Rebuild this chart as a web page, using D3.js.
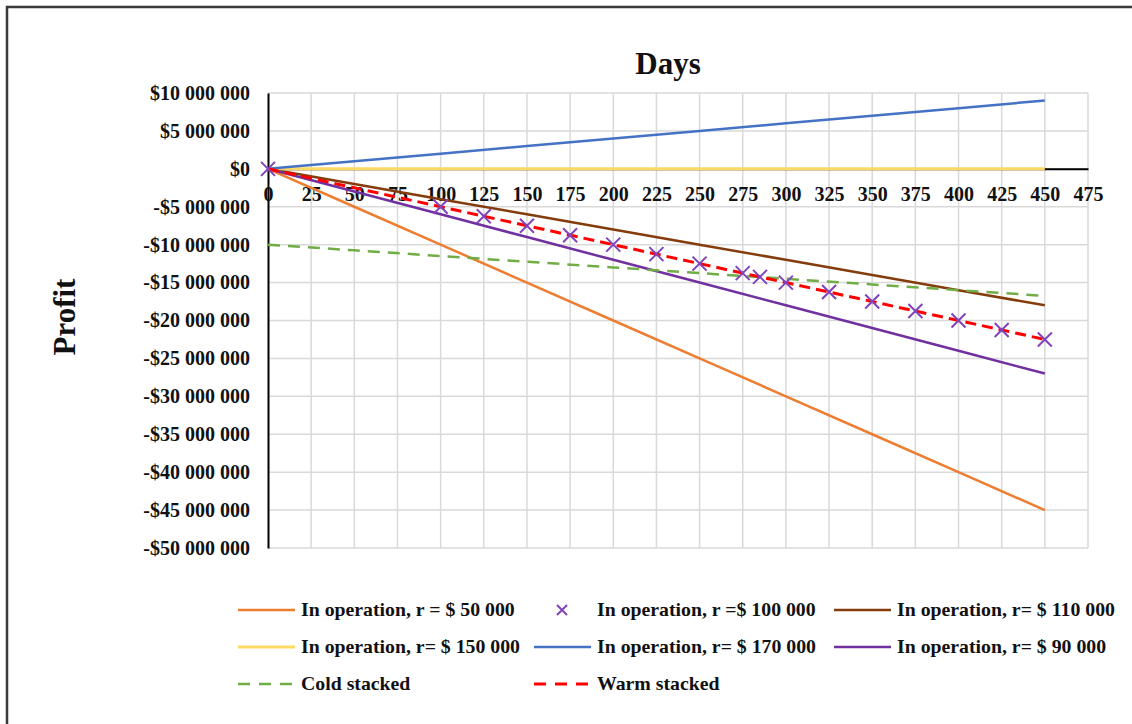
<!DOCTYPE html>
<html>
<head>
<meta charset="utf-8">
<script src="https://cdn.jsdelivr.net/npm/d3@7"></script>
<style>
  body { margin: 0; background: #fff; }
  text { font-family: "Liberation Serif", "Times New Roman", serif; font-weight: bold; fill: #111; }
</style>
</head>
<body>
<svg id="chart" width="1132" height="724"></svg>
<script>
// days sampled along the straight series
const days = [0, 50, 100, 150, 200, 250, 300, 350, 400, 450];

const op50k  = [0, -5e6, -10e6, -15e6, -20e6, -25e6, -30e6, -35e6, -40e6, -45e6];
const op110k = [0, -2e6, -4e6, -6e6, -8e6, -10e6, -12e6, -14e6, -16e6, -18e6];
const op150k = [0, 0, 0, 0, 0, 0, 0, 0, 0, 0];
const op170k = [0, 1e6, 2e6, 3e6, 4e6, 5e6, 6e6, 7e6, 8e6, 9e6];
const op90k  = [0, -3e6, -6e6, -9e6, -12e6, -15e6, -18e6, -21e6, -24e6, -27e6];
const coldStacked = [-10e6, -10.75e6, -11.5e6, -12.25e6, -13e6, -13.75e6, -14.5e6, -15.25e6, -16e6, -16.75e6];
const warmStacked = [0, -2.5e6, -5e6, -7.5e6, -10e6, -12.5e6, -15e6, -17.5e6, -20e6, -22.5e6];

// r = $100 000 is drawn as markers only
const markerDays = [0, 100, 125, 150, 175, 200, 225, 250, 275, 285, 300, 325, 350, 375, 400, 425, 450];
const op100k = [0, -5e6, -6.25e6, -7.5e6, -8.75e6, -10e6, -11.25e6, -12.5e6, -13.75e6, -14.25e6,
                -15e6, -16.25e6, -17.5e6, -18.75e6, -20e6, -21.25e6, -22.5e6];

const xTicks = [0, 25, 50, 75, 100, 125, 150, 175, 200, 225, 250, 275, 300, 325, 350, 375, 400, 425, 450, 475];
const yTicks = [10e6, 5e6, 0, -5e6, -10e6, -15e6, -20e6, -25e6, -30e6, -35e6, -40e6, -45e6, -50e6];

const series = [
  { name: "In operation, r = $ 50 000",  values: op50k,       color: "#ED7D31", width: 2.5 },
  { name: "In operation, r= $ 110 000",  values: op110k,      color: "#843C0C", width: 2.5 },
  { name: "In operation, r= $ 150 000",  values: op150k,      color: "#FFD966", width: 3 },
  { name: "In operation, r= $ 170 000",  values: op170k,      color: "#4472C4", width: 2.5 },
  { name: "In operation, r= $ 90 000",   values: op90k,       color: "#7030A0", width: 2.5 },
  { name: "Cold stacked",                values: coldStacked, color: "#70AD47", width: 2.5, dash: "12,8" },
  { name: "Warm stacked",                values: warmStacked, color: "#FF0000", width: 3,   dash: "11,6" }
];
const markerColor = "#7F44BC";

const svg = d3.select("#chart");

const x = d3.scaleLinear().domain([0, 475]).range([268, 1088]);
const y = d3.scaleLinear().domain([10e6, -50e6]).range([93, 548]);

const fmtMoney = function(v){
  const s = d3.format(",")(Math.abs(v)).replace(/,/g, " ");
  return (v < 0 ? "-" : "") + "$" + s;
};

// outer frame (only top and left edges fall inside the picture)
svg.append("path")
  .attr("d", "M7,740 L7,7 L1150,7")
  .attr("fill", "none")
  .attr("stroke", "#3a3a3a")
  .attr("stroke-width", 2.5);

// grid
const grid = svg.append("g").attr("class", "grid");
grid.selectAll("line.h")
  .data(yTicks)
  .join("line")
  .attr("class", "h")
  .attr("x1", x(0)).attr("x2", x(475))
  .attr("y1", (d) => y(d)).attr("y2", (d) => y(d))
  .attr("stroke", "#d9d9d9").attr("stroke-width", 1.5);
grid.selectAll("line.v")
  .data(xTicks.slice(1))
  .join("line")
  .attr("class", "v")
  .attr("x1", (d) => x(d)).attr("x2", (d) => x(d))
  .attr("y1", y(10e6)).attr("y2", y(-50e6))
  .attr("stroke", "#d9d9d9").attr("stroke-width", 1.5);

// axes: y axis on the left, x axis crossing at $0
const yAxis = d3.axisLeft(y).tickValues(yTicks).tickSize(0).tickPadding(18).tickFormat(fmtMoney);
svg.append("g")
  .attr("transform", `translate(${x(0)},0)`)
  .call(yAxis)
  .call((g) => g.select(".domain").attr("stroke", "#000").attr("stroke-width", 2))
  .call((g) => g.selectAll("text")
    .attr("font-family", "Liberation Serif").attr("font-weight", "bold")
    .attr("font-size", 20).attr("fill", "#111"));

const xAxis = d3.axisBottom(x).tickValues(xTicks).tickSize(0).tickPadding(18);
svg.append("g")
  .attr("transform", `translate(0,${y(0)})`)
  .call(xAxis)
  .call((g) => g.select(".domain").attr("stroke", "#000").attr("stroke-width", 2))
  .call((g) => g.selectAll("text")
    .attr("font-family", "Liberation Serif").attr("font-weight", "bold")
    .attr("font-size", 20).attr("fill", "#111"));

// lines
const line = d3.line().x((d) => x(d[0])).y((d) => y(d[1]));
svg.append("g")
  .selectAll("path")
  .data(series)
  .join("path")
  .attr("d", (s) => line(days.map((d, i) => [d, s.values[i]])))
  .attr("fill", "none")
  .attr("stroke", (s) => s.color)
  .attr("stroke-width", (s) => s.width)
  .attr("stroke-dasharray", (s) => s.dash || null);

// x markers for r = $100 000
const drawCross = function(sel, size){
  sel.append("path")
    .attr("d", `M${-size},${-size}L${size},${size}M${-size},${size}L${size},${-size}`)
    .attr("stroke", markerColor)
    .attr("stroke-width", 2)
    .attr("fill", "none");
};
svg.append("g")
  .selectAll("g")
  .data(markerDays.map((d, i) => [d, op100k[i]]))
  .join("g")
  .attr("transform", (d) => `translate(${x(d[0])},${y(d[1])})`)
  .each(function(){ drawCross(d3.select(this), 7); });

// titles
svg.append("text")
  .attr("x", 668).attr("y", 74)
  .attr("text-anchor", "middle")
  .attr("font-size", 31)
  .text("Days");
svg.append("text")
  .attr("transform", "translate(75,317) rotate(-90)")
  .attr("text-anchor", "middle")
  .attr("font-size", 31)
  .text("Profit");

// legend
const legendItems = [
  { s: series[0], col: 0, row: 0 },
  { s: null,      col: 1, row: 0, name: "In operation, r =$ 100 000" },
  { s: series[1], col: 2, row: 0 },
  { s: series[2], col: 0, row: 1 },
  { s: series[3], col: 1, row: 1 },
  { s: series[4], col: 2, row: 1 },
  { s: series[5], col: 0, row: 2 },
  { s: series[6], col: 1, row: 2 }
];
const colX = [238, 534, 834];
const rowY = [610, 647, 684];
const legend = svg.append("g").attr("class", "legend");
legend.selectAll("g")
  .data(legendItems)
  .join("g")
  .attr("transform", (d) => `translate(${colX[d.col]},${rowY[d.row]})`)
  .each(function(d){
    const g = d3.select(this);
    if (d.s) {
      g.append("line")
        .attr("x1", 0).attr("x2", 57)
        .attr("stroke", d.s.color)
        .attr("stroke-width", d.s.width)
        .attr("stroke-dasharray", d.s.dash ? "12,9" : null);
    } else {
      g.append("g").attr("transform", "translate(28,0)").call(drawCross, 5);
    }
    g.append("text")
      .attr("transform", "translate(63,6) scale(1.1,1)")
      .attr("font-size", 18)
      .text(d.s ? d.s.name : d.name);
  });
</script>
</body>
</html>
